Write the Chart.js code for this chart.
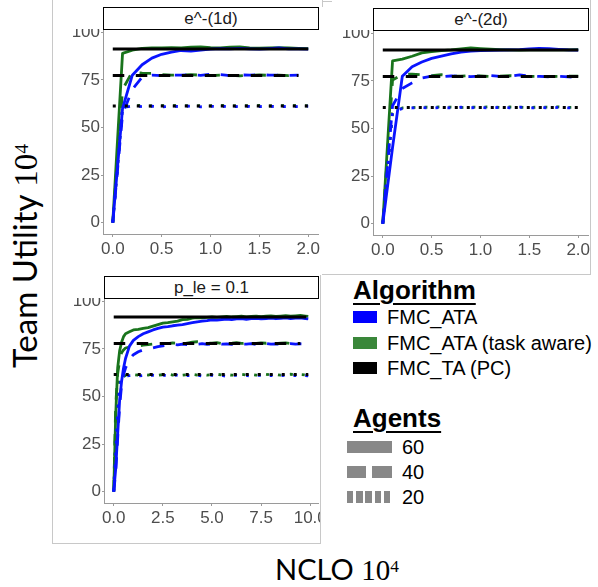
<!DOCTYPE html>
<html><head><meta charset="utf-8">
<script src="https://cdn.jsdelivr.net/npm/chart.js@4.4.1/dist/chart.umd.min.js"></script>
<style>
html,body{margin:0;padding:0;background:#fff;}
body{width:598px;height:587px;position:relative;overflow:hidden;font-family:"Liberation Sans",Arial,sans-serif;}
.ln{position:absolute;background:#c8c8c8;}
.strip{position:absolute;border:1px solid #000;box-sizing:border-box;background:#fff;text-align:center;font-size:17px;color:#1a1a1a;}
.wrap{position:absolute;overflow:hidden;}
.wrap canvas{position:absolute;left:0;top:0;}
.head{position:absolute;font-weight:bold;font-size:26px;text-decoration:underline;text-decoration-thickness:2px;text-underline-offset:4px;color:#000;white-space:nowrap;}
.item{position:absolute;font-size:20px;color:#000;white-space:nowrap;line-height:20px;}
.key{position:absolute;}
.title{position:absolute;font-family:Lato,"Open Sans",sans-serif;color:#000;white-space:nowrap;line-height:40px;}
.title .m{font-family:"Liberation Serif","DejaVu Serif",serif;}
.title sup{font-size:0.6em;vertical-align:0.45em;line-height:0;}
</style></head><body>

<!-- panel frames -->
<div class="ln" style="left:52px;top:0;width:1px;height:544px"></div>
<div class="ln" style="left:52px;top:543px;width:269px;height:1px"></div>
<div class="ln" style="left:320px;top:275px;width:1px;height:269px"></div>
<div class="ln" style="left:322px;top:0;width:1px;height:7px"></div>
<div class="ln" style="left:322px;top:1px;width:10px;height:1px"></div>
<div class="ln" style="left:590px;top:0;width:1px;height:275px"></div>
<div class="ln" style="left:322px;top:274px;width:269px;height:1px"></div>

<div class="wrap" id="w1" style="left:60px;top:29px;width:262px;height:232px"></div>
<div class="wrap" id="w2" style="left:330px;top:30px;width:260px;height:232px"></div>
<div class="wrap" id="w3" style="left:61px;top:298px;width:259px;height:232px"></div>

<div class="strip" id="s1" style="left:103px;top:7px;width:216px;height:23px;line-height:21px"></div>
<div class="strip" id="s2" style="left:373px;top:8px;width:216px;height:23px;line-height:21px"></div>
<div class="strip" id="s3" style="left:104px;top:276px;width:215px;height:23px;line-height:21px"></div>

<div class="title" id="ytitle" style="font-size:33px;left:25px;top:256px;transform:translate(-50%,-50%) rotate(-90deg);"></div>
<div class="title" id="xtitle" style="font-size:29px;left:337px;top:569px;transform:translate(-50%,-50%);"></div>

<div id="legend"></div>

<script>
// ---------- data ----------
const panelTitles = ['e^-(1d)', 'e^-(2d)', 'p_le = 0.1'];
const algorithms = ['FMC_ATA', 'FMC_ATA (task aware)', 'FMC_TA (PC)'];
const agentLevels = ['60', '40', '20'];
const yTicks = [0, 25, 50, 75, 100];
const xTicksShort = [0, 0.5, 1.0, 1.5, 2.0];
const xTicksLong = [0, 2.5, 5.0, 7.5, 10.0];
const yAxisTitle = 'Team Utility';
const xAxisTitle = 'NCLO';
const unitBase = '10';
const unitExp = '4';

// panel 1 : e^-(1d)
const p1X = [0, 0.1, 0.2, 0.3, 0.4, 0.5, 0.6, 0.7, 0.8, 0.9, 1.0, 1.1, 1.2, 1.3, 1.4, 1.5, 1.6, 1.7, 1.8, 1.9, 2.0];
const p1_ata60 = [0, 60, 77.5, 83, 86.5, 88.5, 89.6, 90.5, 90.2, 90.7, 91.2, 91.5, 91.3, 91.6, 91.4, 91.2, 91.5, 91.8, 91.4, 91.3, 91.2];
const p1_ata40 = [0, 57, 70, 76.4, 77.5, 77.3, 77.6, 77.5, 77.8, 77.4, 78.0, 77.8, 77.3, 77.7, 77.5, 77.9, 77.5, 77.6, 77.4, 77.5, null];
const p1_ata20 = [0, 60.5, 61.3, 61.0, 61.2, 60.9, 61.1, 61.0, 61.3, 60.9, 61.1, 61.0, 61.2, 60.9, 61.1, 61.0, 61.2, 60.9, 61.1, 61.0, 61.2];
const p1_tsk60 = [0, 89, 90.7, 91.6, 91.8, 91.9, 92.0, 91.8, 92.2, 92.4, 92.0, 91.8, 92.3, 92.4, 91.9, 91.7, 91.9, 92.0, 91.8, 91.6, 91.5];
const p1_tsk40 = [0, 70, 79.3, 78.6, 78.5, 77.8, 77.5, 77.6, 77.8, 77.5, 77.3, 77.5, 77.4, 77.2, 77.5, 77.6, 77.4, 77.5, 77.3, 77.5, null];
const p1_tsk20 = [0, 61.5, 61.4, 61.6, 61.3, 61.5, 61.4, 61.6, 61.3, 61.5, 61.4, 61.6, 61.3, 61.5, 61.4, 61.6, 61.3, 61.5, 61.4, 61.5, 61.4];
const p1_pc = [91.3, 77.4, 61.3];
const p1_pcEnd = [2.0, 1.9, 2.0];

// panel 2 : e^-(2d)
const p2X = [0, 0.1, 0.2, 0.3, 0.4, 0.5, 0.6, 0.7, 0.8, 0.9, 1.0, 1.1, 1.2, 1.3, 1.4, 1.5, 1.6, 1.7, 1.8, 1.9, 2.0];
const p2_ata60 = [0, 40, 77.5, 82.5, 85, 86.9, 88.1, 89.2, 90.2, 90.7, 91, 91.1, 91.2, 91.3, 91.5, 91.9, 92.1, 92, 91.6, 91.3, 91.2];
const p2_ata40 = [0, 62, 71, 74, 76.5, 77.5, 77.2, 77.6, 77.5, 77.3, 77.6, 77.8, 77.4, 77.5, 78.2, 77.6, 77.4, 77.2, 77.5, 77.2, 76.5];
const p2_ata20 = [0, 59, 60.5, 60.8, 61, 60.7, 61.1, 60.8, 61.2, 60.9, 61, 60.8, 61.1, 60.9, 61.2, 60.8, 61, 60.9, 61.1, 60.8, 61];
const p2_tsk60 = [0, 85.5, 86.5, 88, 89.8, 90.5, 91, 91.3, 91.8, 92.4, 92, 91.7, 91.5, 91.4, 91.2, 91.3, 91.4, 91.5, 91.4, 91.3, 91.5];
const p2_tsk40 = [0, 75.5, 78.4, 78.6, 78.2, 77.8, 78.3, 77.6, 77.5, 77.8, 77.6, 77.4, 77.5, 77.8, 77.5, 77.4, 77.5, 77.3, 77.4, 77.5, 77.5];
const p2_tsk20 = [0, 58, 60.8, 61, 61.3, 61.1, 61.4, 61.2, 61, 61.3, 61.2, 61.4, 61.1, 61.3, 61.2, 61, 61.3, 61.2, 61.4, 61.1, 61.2];
const p2_pc = [91.3, 77.3, 61.0];
const p2_pcEnd = [2.0, 2.0, 2.0];

// panel 3 : p_le = 0.1
const p3X = [0, 0.1, 0.2, 0.3, 0.4, 0.5, 0.6, 0.8, 1.0, 1.25, 1.5, 1.75, 2.0, 2.25, 2.5, 2.75, 3.0, 3.25, 3.5, 3.75, 4.0, 4.25, 4.5, 4.75, 5.0, 5.25, 5.5, 5.75, 6.0, 6.25, 6.5, 6.75, 7.0, 7.25, 7.5, 7.75, 8.0, 8.25, 8.5, 8.75, 9.0, 9.25, 9.5, 9.75, 9.9];
const p3_ata60 = [0, 12, 30, 48, 58, 65, 70, 76.5, 79.5, 81.5, 83, 84, 85, 85.8, 86.5, 86.8, 87.2, 87.5, 87.8, 88.3, 88.8, 89.3, 89.6, 89.9, 90.3, 90.2, 90.5, 90.7, 90.4, 90.8, 90.9, 90.6, 90.9, 91.1, 90.8, 91.0, 91.2, 90.9, 91.1, 91.3, 91.0, 91.2, 91.4, 91.0, 90.8];
const p3_ata40 = [0, 10, 28, 45, 56, 61.5, 65, 69.5, 72, 73.5, 74.5, 75.2, 75.6, 76.2, 76.6, 77, 77.4, 77.2, 77.6, 77.3, 77.7, 77.5, 77.8, 77.4, 77.6, 77.9, 77.5, 77.7, 77.4, 77.8, 77.6, 77.5, 77.8, 77.4, 77.6, 77.9, 77.5, 77.7, 77.4, 77.6, 77.8, 77.5, 77.7, 77.6, 77.4];
const p3_ata20 = [0, 20, 42, 55, 59.5, 60.3, 60.8, 61, 61.2, 60.8, 61.1, 60.6, 61.2, 60.9, 61.3, 60.7, 61.0, 61.2, 60.6, 61.1, 60.9, 61.3, 60.7, 61.0, 61.2, 60.8, 61.1, 60.6, 61.0, 61.2, 60.8, 61.1, 60.7, 61.0, 61.2, 60.8, 61.1, 60.6, 61.0, 61.2, 60.8, 61.1, 60.7, 61.0, 60.8];
const p3_tsk60 = [0, 40, 65, 74, 78.5, 81.5, 83, 84, 85, 85.3, 85.8, 86.2, 87, 87.8, 88.6, 88.8, 89.2, 89.6, 90.4, 90.6, 91.2, 91.5, 91.3, 91.6, 91.8, 91.6, 91.9, 92.1, 91.8, 92.0, 92.2, 91.9, 92.1, 92.3, 92.0, 92.2, 92.4, 92.1, 92.3, 92.5, 92.2, 92.4, 92.6, 92.3, 92.1];
const p3_tsk40 = [0, 45, 62, 69, 73, 74.5, 75.5, 76, 76.3, 76.5, 77, 77.3, 77.6, 77.8, 78, 77.8, 78.2, 78.0, 78.3, 78.1, 78.6, 78.8, 78.5, 78.1, 78.0, 78.3, 77.9, 78.2, 78.0, 78.3, 77.9, 78.1, 78.3, 77.9, 78.2, 78.0, 78.3, 77.9, 78.1, 78.2, 77.9, 78.1, 78.0, null, null];
const p3_tsk20 = [0, 35, 55, 60.5, 59.8, 60.5, 61, 61.2, 61.5, 61.2, 61.6, 61.3, 61.7, 61.2, 61.5, 61.8, 61.3, 61.6, 61.2, 61.5, 61.7, 61.3, 61.6, 61.2, 61.5, 61.7, 61.3, 61.6, 61.2, 61.5, 61.7, 61.3, 61.6, 61.2, 61.5, 61.7, 61.3, 61.6, 61.2, 61.5, 61.7, 61.3, 61.6, 61.4, 61.5];
const p3_pc = [91.8, 77.9, 61.6];
const p3_pcEnd = [9.8, 9.5, 9.9];

// ---------- styling ----------
const COLORS = {'FMC_ATA': '#0a14ff', 'FMC_ATA (task aware)': '#19741c', 'FMC_TA (PC)': '#000000'};
const LEGEND_COLORS = {'FMC_ATA': '#0000ff', 'FMC_ATA (task aware)': '#3a873a', 'FMC_TA (PC)': '#000000'};
const DASH = {'60': [], '40': [11.5, 11.5], '20': [3, 9]};

function series(xs, ys) {
  const out = [];
  xs.forEach((x, i) => { if (ys[i] !== null && ys[i] !== undefined) out.push({x: x, y: ys[i]}); });
  return out;
}

function buildDatasets(xs, ata, tsk, pc, pcEnd) {
  const ds = [];
  agentLevels.forEach((a, k) => {
    ds.push({label: 'FMC_TA (PC) ' + a, data: series([0, pcEnd[k]], [pc[k], pc[k]]),
      borderColor: COLORS['FMC_TA (PC)'], borderWidth: 3, borderDash: DASH[a]});
  });
  agentLevels.forEach((a, k) => {
    ds.push({label: 'FMC_ATA ' + a, data: series(xs, ata[k]),
      borderColor: COLORS['FMC_ATA'], borderWidth: 2.8, borderDash: DASH[a]});
  });
  agentLevels.forEach((a, k) => {
    ds.push({label: 'FMC_ATA (task aware) ' + a, data: series(xs, tsk[k]),
      borderColor: COLORS['FMC_ATA (task aware)'], borderWidth: 2.8, borderDash: DASH[a]});
  });
  ds.forEach(d => { d.pointRadius = 0; d.fill = false; d.tension = 0; d.borderCapStyle = 'butt'; d.borderJoinStyle = 'round'; d.spanGaps = false; });
  return ds;
}

function makeChart(wrapId, w, h, yW, xH, padR, xmin, xmax, xTicks, xDec, datasets) {
  const wrap = document.getElementById(wrapId);
  const cv = document.createElement('canvas');
  cv.width = w; cv.height = h;
  cv.style.width = w + 'px'; cv.style.height = h + 'px';
  wrap.appendChild(cv);
  const tickFont = {family: '"Liberation Sans", Arial, sans-serif', size: 17};
  return new Chart(cv.getContext('2d'), {
    type: 'line',
    data: {datasets: datasets},
    options: {
      responsive: false, animation: false, devicePixelRatio: 1,
      layout: {padding: {left: 0, top: 0, right: padR, bottom: 0}},
      plugins: {legend: {display: false}, tooltip: {enabled: false}},
      scales: {
        x: {
          type: 'linear', min: xmin, max: xmax,
          afterBuildTicks: s => { s.ticks = xTicks.map(v => ({value: v})); },
          afterFit: s => { s.height = xH; s.paddingLeft = 0; s.paddingRight = 0; },
          ticks: {font: tickFont, color: '#4d4d4d', padding: 2, maxRotation: 0, autoSkip: false,
            callback: v => Number(v).toFixed(xDec)},
          grid: {display: true, drawOnChartArea: false, drawTicks: true, tickLength: 3, color: '#9a9a9a'},
          border: {display: true, color: '#9a9a9a', width: 1}
        },
        y: {
          type: 'linear', min: -6, max: 101.8,
          afterBuildTicks: s => { s.ticks = yTicks.map(v => ({value: v})); },
          afterFit: s => { s.width = yW; s.paddingTop = 0; s.paddingBottom = 0; },
          ticks: {font: tickFont, color: '#4d4d4d', padding: 1, callback: v => String(v)},
          grid: {display: true, drawOnChartArea: false, drawTicks: true, tickLength: 2, color: '#9a9a9a'},
          border: {display: true, color: '#9a9a9a', width: 1}
        }
      }
    }
  });
}

makeChart('w1', 262, 232, 43, 27, 4, -0.1, 2.1, xTicksShort, 1,
  buildDatasets(p1X, [p1_ata60, p1_ata40, p1_ata20], [p1_tsk60, p1_tsk40, p1_tsk20], p1_pc, p1_pcEnd));
makeChart('w2', 262, 232, 43, 27, 4, -0.1, 2.1, xTicksShort, 1,
  buildDatasets(p2X, [p2_ata60, p2_ata40, p2_ata20], [p2_tsk60, p2_tsk40, p2_tsk20], p2_pc, p2_pcEnd));
makeChart('w3', 270, 232, 43, 27, 13, -0.495, 10.395, xTicksLong, 1,
  buildDatasets(p3X, [p3_ata60, p3_ata40, p3_ata20], [p3_tsk60, p3_tsk40, p3_tsk20], p3_pc, p3_pcEnd));

document.getElementById('s1').textContent = panelTitles[0];
document.getElementById('s2').textContent = panelTitles[1];
document.getElementById('s3').textContent = panelTitles[2];

function setTitle(id, word) {
  const el = document.getElementById(id);
  el.appendChild(document.createTextNode(word + ' '));
  const m = document.createElement('span'); m.className = 'm';
  m.appendChild(document.createTextNode(unitBase));
  const sup = document.createElement('sup'); sup.textContent = unitExp;
  m.appendChild(sup); el.appendChild(m);
}
setTitle('ytitle', yAxisTitle);
setTitle('xtitle', xAxisTitle);

// legend
const lg = document.getElementById('legend');
function add(html) { lg.insertAdjacentHTML('beforeend', html); }
add('<div class="head" style="left:353px;top:275px;">Algorithm</div>');
const algY = [311, 336.5, 361.5];
algorithms.forEach((a, i) => {
  add('<div class="key" style="left:353px;top:' + algY[i] + 'px;width:24px;height:12px;background:' + LEGEND_COLORS[a] + '"></div>');
  add('<div class="item" style="left:387px;top:' + (algY[i] - 4) + 'px;">' + a + '</div>');
});
add('<div class="head" style="left:353px;top:403px;">Agents</div>');
const agY = [441, 466, 491];
const keyBg = {
  '60': '#888',
  '40': 'linear-gradient(to right,#888 0,#888 19px,#fff 19px,#fff 25px,#888 25px,#888 100%)',
  '20': 'repeating-linear-gradient(to right,#888 0,#888 6.4px,#fff 6.4px,#fff 9.2px)'
};
agentLevels.forEach((a, i) => {
  add('<div class="key" style="left:347px;top:' + agY[i] + 'px;width:45px;height:12px;background:' + keyBg[a] + '"></div>');
  add('<div class="item" style="left:402px;top:' + (agY[i] - 4) + 'px;">' + a + '</div>');
});
</script>
</body></html>
